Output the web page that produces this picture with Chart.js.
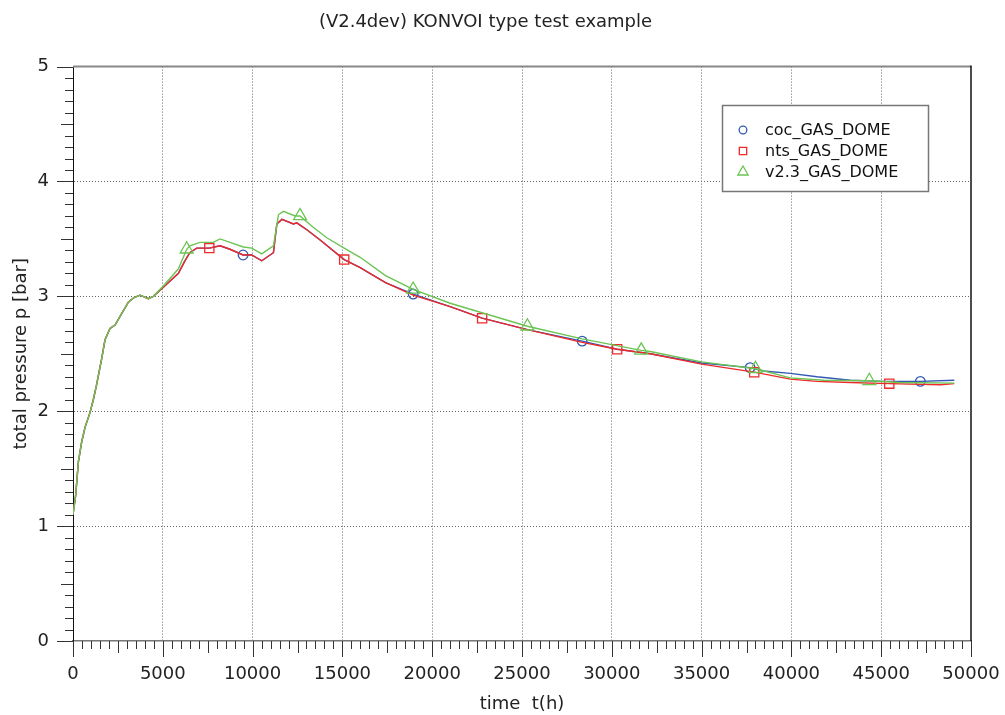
<!DOCTYPE html>
<html lang="en">
<head>
<meta charset="UTF-8">
<title>KONVOI type test</title>
<script src="https://cdn.jsdelivr.net/npm/chart.js@4"></script>
<style>
  body { margin: 0; background: #fff; }
</style>
</head>
<body>
<canvas id="myChart" width="1005" height="715"></canvas>
<script>
// start-up part, identical for all three runs (time in h, pressure in bar)
const riseTime = [0, 150, 300, 480, 670, 950, 1130, 1300, 1600, 1780, 2060, 2340, 2710, 3080, 3400, 3730, 4200, 4470];
const riseP    = [1.10, 1.27, 1.56, 1.73, 1.86, 1.99, 2.10, 2.22, 2.46, 2.62, 2.72, 2.75, 2.85, 2.95, 2.99, 3.01, 2.98, 3.00];

// coc_GAS_DOME
const cocTime = [5030, 5870, 6200, 6500, 6890, 7590, 8190, 8740, 9470, 9950, 10510, 11160, 11350, 11630, 12270, 12460, 13020, 13760, 15100, 15990, 17400, 18940, 21000, 22780, 25300, 28350, 30300, 32140, 35000, 37700, 38450, 39940, 41420, 43280, 45140, 47180, 49070];
const cocP    = [3.08, 3.20, 3.30, 3.38, 3.42, 3.42, 3.44, 3.41, 3.36, 3.36, 3.31, 3.38, 3.63, 3.67, 3.63, 3.64, 3.58, 3.49, 3.32, 3.25, 3.12, 3.02, 2.91, 2.81, 2.71, 2.61, 2.54, 2.50, 2.42, 2.38, 2.35, 2.33, 2.30, 2.27, 2.26, 2.26, 2.27];
const cocMarks = [9470, 18940, 28350, 37700, 47180];

// nts_GAS_DOME
const ntsTime = [5030, 5870, 6200, 6500, 6890, 7590, 8190, 8740, 9470, 9950, 10510, 11160, 11350, 11630, 12270, 12460, 13020, 13760, 15100, 15990, 17400, 18940, 21000, 22780, 25300, 28350, 30300, 32140, 35000, 37930, 39940, 41420, 43280, 45450, 48300, 49070];
const ntsP    = [3.08, 3.20, 3.30, 3.38, 3.42, 3.42, 3.44, 3.41, 3.36, 3.36, 3.31, 3.38, 3.63, 3.67, 3.63, 3.64, 3.58, 3.49, 3.32, 3.25, 3.12, 3.01, 2.91, 2.81, 2.71, 2.60, 2.54, 2.50, 2.41, 2.34, 2.28, 2.26, 2.25, 2.24, 2.23, 2.24];
const ntsMarks = [7590, 15100, 22780, 30300, 37930, 45450];

// v2.3_GAS_DOME
const v23Time = [5030, 5870, 6330, 6500, 7070, 7810, 8190, 8740, 9490, 9950, 10510, 11160, 11440, 11710, 12370, 12640, 13390, 14130, 15430, 15990, 17400, 18940, 21000, 25300, 28350, 31640, 32140, 35000, 38000, 39940, 41800, 44340, 46000, 49070];
const v23P    = [3.09, 3.24, 3.41, 3.44, 3.47, 3.47, 3.50, 3.47, 3.43, 3.42, 3.37, 3.44, 3.71, 3.74, 3.70, 3.70, 3.60, 3.51, 3.39, 3.34, 3.18, 3.06, 2.94, 2.74, 2.63, 2.53, 2.52, 2.43, 2.37, 2.29, 2.27, 2.265, 2.25, 2.245];
const v23Marks = [6330, 12640, 18940, 25300, 31640, 38000, 44340];

const FONT = 'DejaVu Sans';
Chart.defaults.font.family = FONT;

function toPoints(time, p) {
  const t = riseTime.concat(time);
  const v = riseP.concat(p);
  return t.map((x, i) => ({ x: x, y: v[i] }));
}

function makeSet(label, time, p, marks, color, style, radius, order) {
  return {
    label: label,
    data: toPoints(time, p),
    borderColor: color,
    borderWidth: 1.4,
    backgroundColor: 'rgba(0,0,0,0)',
    pointStyle: style,
    pointBorderColor: color,
    pointBorderWidth: 1.3,
    pointBackgroundColor: 'rgba(0,0,0,0)',
    pointRadius: c => marks.includes(c.raw.x) ? radius : 0,
    tension: 0,
    order: order,
    legendRadius: radius
  };
}

const series = [
  makeSet('coc_GAS_DOME', cocTime, cocP, cocMarks, '#3258b4', 'circle', 4.8, 2),
  makeSet('nts_GAS_DOME', ntsTime, ntsP, ntsMarks, '#ee2a2a', 'rect', 6.5, 1),
  makeSet('v2.3_GAS_DOME', v23Time, v23P, v23Marks, '#6cc452', 'triangle', 7.5, 0)
];

// minor tick marks outside the frame, plus top and right frame lines
const frameTicks = {
  id: 'frameTicks',
  afterDraw(chart) {
    const { ctx, chartArea: a, scales: { x, y } } = chart;
    ctx.save();
    ctx.lineWidth = 1;
    ctx.strokeStyle = '#333';
    ctx.beginPath();
    for (let t = x.min; t <= x.max; t += 500) {
      const px = Math.round(x.getPixelForValue(t)) + 0.5;
      const len = t % 5000 === 0 ? 16 : (t % 2500 === 0 ? 12 : 8);
      ctx.moveTo(px, a.bottom);
      ctx.lineTo(px, a.bottom + len);
    }
    for (let i = 0; i <= y.max * 10; i++) {
      const py = Math.round(y.getPixelForValue(i / 10)) + 0.5;
      const len = i % 10 === 0 ? 16 : (i % 5 === 0 ? 12 : 8);
      ctx.moveTo(a.left - len, py);
      ctx.lineTo(a.left, py);
    }
    ctx.stroke();

    ctx.lineWidth = 2;
    ctx.strokeStyle = '#888';
    ctx.beginPath();
    ctx.moveTo(a.left, a.top);
    ctx.lineTo(a.right, a.top);
    ctx.stroke();
    ctx.lineWidth = 1.5;
    ctx.strokeStyle = '#111';
    ctx.beginPath();
    ctx.moveTo(a.right, a.top - 1);
    ctx.lineTo(a.right, a.bottom);
    ctx.stroke();
    ctx.restore();
  }
};

// boxed legend inside the plot, upper right
const boxLegend = {
  id: 'boxLegend',
  afterDraw(chart) {
    const ctx = chart.ctx;
    const bx = 722.5, by = 105.5, bw = 206, bh = 86;
    ctx.save();
    ctx.fillStyle = '#fff';
    ctx.fillRect(bx, by, bw, bh);
    ctx.lineWidth = 1.5;
    ctx.strokeStyle = '#777';
    ctx.strokeRect(bx, by, bw, bh);
    ctx.font = '16px "' + FONT + '"';
    ctx.textBaseline = 'middle';
    chart.data.datasets.forEach((ds, i) => {
      const cy = 130 + i * 21;
      ctx.strokeStyle = ds.borderColor;
      ctx.fillStyle = 'rgba(0,0,0,0)';
      ctx.lineWidth = 1.3;
      Chart.helpers.drawPoint(ctx, {
        pointStyle: ds.pointStyle,
        radius: ds.legendRadius * 0.8,
        rotation: 0,
        borderWidth: 1.3
      }, 743, cy);
      ctx.fillStyle = '#111';
      ctx.fillText(ds.label, 765, cy + 1);
    });
    ctx.restore();
  }
};

const innerLine = (c, max) => (c.tick.value > 0 && c.tick.value < max) ? '#666' : 'rgba(0,0,0,0)';

const ctx = document.getElementById('myChart').getContext('2d');
const myChart = new Chart(ctx, {
  type: 'line',
  data: { datasets: series },
  options: {
    responsive: false,
    animation: false,
    devicePixelRatio: 1,
    layout: { padding: { left: 0, right: 34, top: 0, bottom: 0 } },
    plugins: {
      legend: { display: false },
      tooltip: { enabled: false },
      title: {
        display: true,
        text: '(V2.4dev) KONVOI type test example',
        color: '#222',
        font: { size: 18, weight: 'normal' },
        padding: { top: 12, bottom: 33 }
      }
    },
    scales: {
      x: {
        type: 'linear',
        min: 0,
        max: 50000,
        // the end labels may stick out; the layout padding already leaves room
        afterFit: s => { s.height = 74; s.paddingLeft = 0; s.paddingRight = 0; },
        ticks: {
          stepSize: 5000,
          padding: 23,
          color: '#222',
          maxRotation: 0,
          autoSkip: false,
          font: { size: 18 },
          callback: v => String(v)
        },
        grid: { drawTicks: false, lineWidth: 1, color: c => innerLine(c, 50000) },
        border: { display: true, color: '#777', width: 1.5, dash: [1, 2] },
        title: {
          display: true,
          text: 'time  t(h)',
          color: '#222',
          font: { size: 18 },
          padding: { top: 0, bottom: 0 }
        }
      },
      y: {
        min: 0,
        max: 5,
        afterFit: s => { s.width = 73; s.paddingTop = 0; s.paddingBottom = 0; },
        ticks: {
          stepSize: 1,
          padding: 24,
          color: '#222',
          font: { size: 18 },
          callback: v => String(v)
        },
        grid: { drawTicks: false, lineWidth: 1, color: c => innerLine(c, 5) },
        border: { display: true, color: '#111', width: 1, dash: [1, 2] },
        title: {
          display: true,
          text: 'total pressure p [bar]',
          color: '#222',
          font: { size: 18 },
          padding: { top: 11, bottom: 0 }
        }
      }
    }
  },
  plugins: [frameTicks, boxLegend]
});
</script>
</body>
</html>
